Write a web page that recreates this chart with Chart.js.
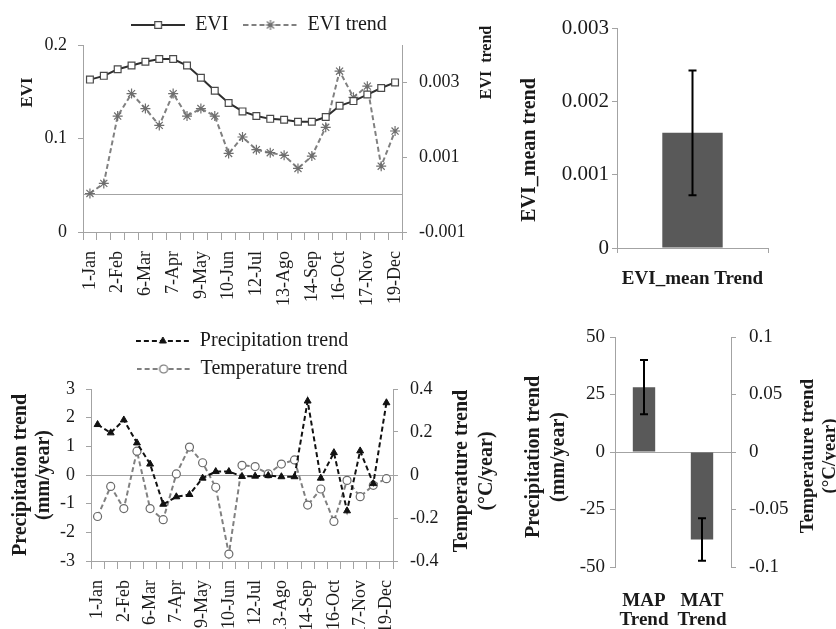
<!DOCTYPE html>
<html>
<head>
<meta charset="utf-8">
<script src="https://cdn.jsdelivr.net/npm/chart.js@4.4.1/dist/chart.umd.min.js"></script>
<style>
  html, body { margin: 0; padding: 0; background: #fff; overflow: hidden; }
  #wrap { position: relative; width: 836px; height: 629px; overflow: hidden; }
  #wrap canvas { position: absolute; }
</style>
</head>
<body>
<div id="wrap">
  <canvas id="eviChart" width="518" height="310" style="left:0;top:0"></canvas>
  <canvas id="eviBar" width="336" height="310" style="left:500px;top:0"></canvas>
  <canvas id="climChart" width="500" height="340" style="left:0;top:310px"></canvas>
  <canvas id="climBar" width="336" height="319" style="left:500px;top:310px"></canvas>
</div>
<script>
// 16-day composite dates
const dates = ['1-Jan', '17-Jan', '2-Feb', '18-Feb', '6-Mar', '22-Mar', '7-Apr', '23-Apr',
  '9-May', '25-May', '10-Jun', '26-Jun', '12-Jul', '28-Jul', '13-Ago', '29-Ago',
  '14-Sep', '30-Sep', '16-Oct', '1-Nov', '17-Nov', '3-Dec', '19-Dec'];

const evi = [0.163, 0.167, 0.174, 0.178, 0.182, 0.185, 0.185, 0.178, 0.165, 0.151, 0.138, 0.129,
  0.124, 0.121, 0.120, 0.118, 0.118, 0.123, 0.135, 0.140, 0.147, 0.154, 0.160];
const eviTrend = [0.00003, 0.0003, 0.0021, 0.0027, 0.0023, 0.00185, 0.0027, 0.0021, 0.0023, 0.0021,
  0.0011, 0.00154, 0.0012, 0.00112, 0.00105, 0.0007, 0.00103, 0.0018, 0.0033, 0.0026, 0.0029,
  0.00076, 0.0017];

const precipTrend = [1.76, 1.47, 1.92, 1.12, 0.38, -1.02, -0.76, -0.68, -0.11, 0.12, 0.12, -0.05,
  -0.04, -0.02, -0.06, -0.06, 2.58, -0.11, 0.78, -1.25, 0.84, -0.30, 2.52];
const tempTrend = [-0.193, -0.053, -0.156, 0.111, -0.156, -0.208, 0.005, 0.130, 0.057, -0.057,
  -0.368, 0.045, 0.039, 0.005, 0.051, 0.070, -0.140, -0.065, -0.216, -0.025, -0.101, -0.048, -0.017];

const eviMean = [0.00157];
const eviMeanErr = [0.00085];
const mapTrend = [28.2];
const mapErr = [11.8];
const matTrend = [-0.076];
const matErr = [0.0185];

const eviTicksRight = [-0.001, 0, 0.001, 0.003];

const GREY = '#a3a3a3';
const TEXT = '#1a1a1a';

Chart.defaults.font.family = "'Liberation Serif', 'Times New Roman', serif";
Chart.defaults.color = TEXT;

const isZero = v => Math.abs(v) < 1e-9;

// axis titles, rotated to read upwards on both sides
const sideTitles = {
  id: 'sideTitles',
  afterDraw(chart, args, opts) {
    const ctx = chart.ctx;
    const area = chart.chartArea;
    (opts.items || []).forEach(t => {
      const s = chart.scales[t.scale];
      const x = s.position === 'left' ? s.left + t.offset : s.right - t.offset;
      const y = (area.top + area.bottom) / 2 + (t.shift || 0);
      ctx.save();
      ctx.translate(x, y);
      ctx.rotate(-Math.PI / 2);
      ctx.font = 'bold ' + t.size + "px 'Liberation Serif', 'Times New Roman', serif";
      ctx.fillStyle = TEXT;
      ctx.textAlign = 'center';
      ctx.textBaseline = 'middle';
      const n = t.lines.length;
      t.lines.forEach((line, i) => ctx.fillText(line, 0, (i - (n - 1) / 2) * t.lineHeight));
      ctx.restore();
    });
  }
};

// error bars read from dataset.errors
const errorBars = {
  id: 'errorBars',
  afterDatasetsDraw(chart) {
    const ctx = chart.ctx;
    chart.data.datasets.forEach((ds, di) => {
      if (!ds.errors) return;
      const scale = chart.scales[ds.yAxisID || 'y'];
      chart.getDatasetMeta(di).data.forEach((bar, i) => {
        const v = ds.data[i], e = ds.errors[i];
        if (v == null || e == null) return;
        const top = scale.getPixelForValue(v + e);
        const bot = scale.getPixelForValue(v - e);
        ctx.save();
        ctx.strokeStyle = '#000';
        ctx.lineWidth = 2;
        ctx.beginPath();
        ctx.moveTo(bar.x, top); ctx.lineTo(bar.x, bot);
        ctx.moveTo(bar.x - 4, top); ctx.lineTo(bar.x + 4, top);
        ctx.moveTo(bar.x - 4, bot); ctx.lineTo(bar.x + 4, bot);
        ctx.stroke();
        ctx.restore();
      });
    });
  }
};

// legend symbol: line segment with the marker in the middle
function legendSymbol(ds) {
  const c = document.createElement('canvas');
  c.width = 54; c.height = 14;
  const g = c.getContext('2d');
  g.strokeStyle = ds.borderColor;
  g.lineWidth = ds.borderWidth;
  g.setLineDash(ds.borderDash || []);
  g.beginPath(); g.moveTo(0, 7); g.lineTo(54, 7); g.stroke();
  g.setLineDash([]);
  g.fillStyle = ds.pointBackgroundColor;
  g.strokeStyle = ds.pointBorderColor;
  g.lineWidth = ds.pointBorderWidth;
  Chart.helpers.drawPoint(g, { pointStyle: ds.pointStyle, radius: ds.pointRadius, borderWidth: ds.pointBorderWidth, rotation: 0 }, 27, 7);
  return c;
}

function symbolLabels(chart) {
  return Chart.defaults.plugins.legend.labels.generateLabels(chart).map((item, i) => {
    item.pointStyle = legendSymbol(chart.data.datasets[i]);
    return item;
  });
}

const dateTicks = {
  autoSkip: false, minRotation: 90, maxRotation: 90, padding: 11,
  font: { size: 18 },
  callback: (v, i) => (i % 2 === 0 ? dates[i] : '')
};

const base = {
  responsive: false,
  animation: false,
  events: [],
  devicePixelRatio: 1
};

// ───── EVI seasonal curve and trend ─────
const eviDatasets = [
  {
    label: 'EVI', data: evi, yAxisID: 'y',
    borderColor: '#2e2e2e', borderWidth: 2,
    pointStyle: 'rect', pointRadius: 4.8, pointBackgroundColor: '#fff',
    pointBorderColor: '#4a4a4a', pointBorderWidth: 1.2
  },
  {
    label: 'EVI trend', data: eviTrend, yAxisID: 'y1',
    borderColor: '#808080', borderWidth: 2, borderDash: [5, 3],
    pointStyle: 'star', pointRadius: 5, pointBackgroundColor: '#808080',
    pointBorderColor: '#6e6e6e', pointBorderWidth: 1.2
  }
];

new Chart(document.getElementById('eviChart'), {
  type: 'line',
  data: { labels: dates, datasets: eviDatasets },
  options: Object.assign({}, base, {
    layout: { padding: { top: 0 } },
    scales: {
      x: {
        offset: true,
        grid: { offset: true, drawOnChartArea: false, tickLength: 8, color: GREY },
        border: { color: GREY },
        ticks: dateTicks,
        afterFit: s => { s.height = 78; }
      },
      y: {
        position: 'left', min: 0, max: 0.2,
        ticks: { stepSize: 0.1, padding: 11, font: { size: 18 }, callback: v => (isZero(v) ? '0' : v.toFixed(1)) },
        grid: { drawOnChartArea: false, tickLength: 5, color: GREY },
        border: { color: GREY },
        afterFit: s => { s.width = 83; }
      },
      y1: {
        position: 'right', min: -0.001, max: 0.004,
        afterBuildTicks: s => { s.ticks = eviTicksRight.map(v => ({ value: v })); },
        ticks: { padding: 12, font: { size: 18 }, callback: v => (isZero(v) ? '' : v.toFixed(3)) },
        grid: {
          tickLength: 5,
          color: c => (c.tick && isZero(c.tick.value) ? GREY : 'rgba(0,0,0,0)'),
          tickColor: c => (c.tick && isZero(c.tick.value) ? 'rgba(0,0,0,0)' : GREY)
        },
        border: { color: GREY },
        afterFit: s => { s.width = 116; }
      }
    },
    plugins: {
      tooltip: { enabled: false },
      legend: {
        labels: { usePointStyle: true, pointStyleWidth: 54, padding: 15, font: { size: 20 }, color: TEXT, generateLabels: symbolLabels }
      },
      sideTitles: {
        items: [
          { scale: 'y', lines: ['EVI'], size: 17, lineHeight: 20, offset: 28, shift: -46 },
          { scale: 'y1', lines: ['EVI  trend'], size: 16, lineHeight: 20, offset: 31, shift: -76 }
        ]
      }
    }
  }),
  plugins: [sideTitles]
});

// ───── mean EVI trend bar ─────
new Chart(document.getElementById('eviBar'), {
  type: 'bar',
  data: {
    labels: ['EVI_mean Trend'],
    datasets: [{
      label: 'EVI_mean trend', data: eviMean, errors: eviMeanErr,
      backgroundColor: '#595959', barPercentage: 1, categoryPercentage: 0.4
    }]
  },
  options: Object.assign({}, base, {
    layout: { padding: { top: 28, right: 68 } },
    scales: {
      x: {
        grid: { offset: true, drawOnChartArea: false, tickLength: 5, color: GREY },
        border: { color: GREY },
        ticks: { padding: 15, font: { size: 19, weight: 'bold' } },
        afterFit: s => { s.height = 62; }
      },
      y: {
        min: 0, max: 0.003,
        ticks: { stepSize: 0.001, padding: 3, font: { size: 21 }, callback: v => (isZero(v) ? '0' : v.toFixed(3)) },
        grid: { drawOnChartArea: false, tickLength: 5, color: GREY },
        border: { color: GREY },
        afterFit: s => { s.width = 117; }
      }
    },
    plugins: {
      tooltip: { enabled: false },
      legend: { display: false },
      sideTitles: {
        items: [{ scale: 'y', lines: ['EVI_mean trend'], size: 20, lineHeight: 22, offset: 30, shift: 12 }]
      }
    }
  }),
  plugins: [sideTitles, errorBars]
});

// ───── precipitation and temperature trends through the year ─────
const climDatasets = [
  {
    label: 'Precipitation trend', data: precipTrend, yAxisID: 'y',
    borderColor: '#111', borderWidth: 2, borderDash: [5, 3],
    pointStyle: 'triangle', pointRadius: 4, pointBackgroundColor: '#111',
    pointBorderColor: '#111', pointBorderWidth: 1
  },
  {
    label: 'Temperature trend', data: tempTrend, yAxisID: 'y1',
    borderColor: '#808080', borderWidth: 2, borderDash: [5, 3],
    pointStyle: 'circle', pointRadius: 4, pointBackgroundColor: '#fff',
    pointBorderColor: '#6a6a6a', pointBorderWidth: 1.2
  }
];

new Chart(document.getElementById('climChart'), {
  type: 'line',
  data: { labels: dates, datasets: climDatasets },
  options: Object.assign({}, base, {
    layout: { padding: { top: 13 } },
    scales: {
      x: {
        offset: true,
        grid: { offset: true, drawOnChartArea: false, tickLength: 8, color: GREY },
        border: { color: GREY },
        ticks: dateTicks,
        afterFit: s => { s.height = 89; }
      },
      y: {
        position: 'left', min: -3, max: 3,
        ticks: { stepSize: 1, padding: 11, font: { size: 18 } },
        grid: {
          tickLength: 5,
          color: c => (c.tick && isZero(c.tick.value) ? GREY : 'rgba(0,0,0,0)'),
          tickColor: GREY
        },
        border: { color: GREY },
        afterFit: s => { s.width = 91; }
      },
      y1: {
        position: 'right', min: -0.4, max: 0.4,
        ticks: { stepSize: 0.2, padding: 12, font: { size: 18 }, callback: v => (isZero(v) ? '0' : v.toFixed(1)) },
        grid: { drawOnChartArea: false, tickLength: 5, color: GREY },
        border: { color: GREY },
        afterFit: s => { s.width = 107; }
      }
    },
    plugins: {
      tooltip: { enabled: false },
      legend: {
        fullSize: false,
        labels: { usePointStyle: true, pointStyleWidth: 54, padding: 8, font: { size: 20 }, color: TEXT, generateLabels: symbolLabels }
      },
      sideTitles: {
        items: [
          { scale: 'y', lines: ['Precipitation trend', '(mm/year)'], size: 20, lineHeight: 23, offset: 32, shift: 0 },
          { scale: 'y1', lines: ['Temperature trend', '(°C/year)'], size: 20, lineHeight: 25, offset: 26, shift: -4 }
        ]
      }
    }
  }),
  plugins: [sideTitles]
});

// ───── mean annual precipitation / temperature trend bars ─────
new Chart(document.getElementById('climBar'), {
  type: 'bar',
  data: {
    labels: [['MAP', 'Trend'], ['MAT', 'Trend']],
    datasets: [
      { label: 'MAP trend', data: [mapTrend[0], null], errors: [mapErr[0], null], yAxisID: 'y',
        backgroundColor: '#595959', grouped: false, barPercentage: 1, categoryPercentage: 0.386 },
      { label: 'MAT trend', data: [null, matTrend[0]], errors: [null, matErr[0]], yAxisID: 'y1',
        backgroundColor: '#595959', grouped: false, barPercentage: 1, categoryPercentage: 0.386 }
    ]
  },
  options: Object.assign({}, base, {
    layout: { padding: { top: 27 } },
    scales: {
      x: {
        grid: { display: false, drawTicks: false },
        border: { display: false },
        ticks: { padding: 25, font: { size: 19, weight: 'bold', lineHeight: 1 } },
        afterFit: s => { s.height = 62; }
      },
      y: {
        position: 'left', min: -50, max: 50,
        ticks: { stepSize: 25, padding: 5, font: { size: 19 } },
        grid: {
          tickLength: 5,
          color: c => (c.tick && isZero(c.tick.value) ? GREY : 'rgba(0,0,0,0)'),
          tickColor: GREY
        },
        border: { color: GREY },
        afterFit: s => { s.width = 115; }
      },
      y1: {
        position: 'right', min: -0.1, max: 0.1,
        ticks: { stepSize: 0.05, padding: 13, font: { size: 19 }, callback: v => (isZero(v) ? '0' : String(+v.toFixed(2))) },
        grid: { drawOnChartArea: false, tickLength: 5, color: GREY },
        border: { color: GREY },
        afterFit: s => { s.width = 105; }
      }
    },
    plugins: {
      tooltip: { enabled: false },
      legend: { display: false },
      sideTitles: {
        items: [
          { scale: 'y', lines: ['Precipitation trend', '(mm/year)'], size: 20, lineHeight: 25, offset: 46, shift: 5 },
          { scale: 'y1', lines: ['Temperature trend', '(°C/year)'], size: 19, lineHeight: 22, offset: 17, shift: 4 }
        ]
      }
    }
  }),
  plugins: [sideTitles, errorBars]
});
</script>
</body>
</html>
